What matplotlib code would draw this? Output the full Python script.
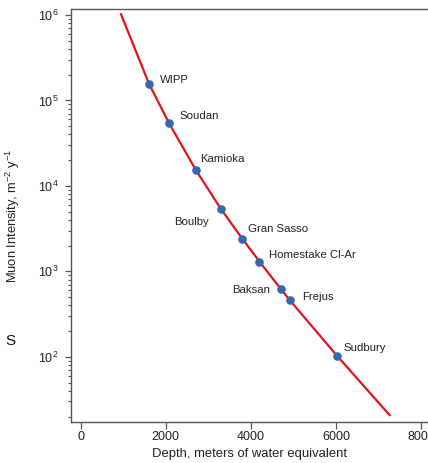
import matplotlib
matplotlib.use("Agg")
import matplotlib.pyplot as plt
from matplotlib.ticker import LogLocator, FixedLocator

plt.rcParams['font.family'] = ['Liberation Sans', 'DejaVu Sans']
plt.rcParams['mathtext.fontset'] = 'custom'
plt.rcParams['mathtext.rm'] = 'Liberation Sans'
plt.rcParams['mathtext.it'] = 'Liberation Sans:italic'
plt.rcParams['mathtext.bf'] = 'Liberation Sans:bold'

# Data
sites = ["WIPP", "Soudan", "Kamioka", "Boulby", "Gran Sasso",
         "Homestake Cl-Ar", "Baksan", "Frejus", "Sudbury"]
site_depth = [1607, 2078, 2705, 3294, 3803, 4203, 4706, 4909, 6024]
site_flux = [1.56e5, 5.4e4, 1.54e4, 5.38e3, 2.4e3, 1.30e3, 620, 464, 103]

curve_depth = [948, 1607, 2078, 2705, 3294, 3803, 4203, 4706, 4909, 6024, 7261]
curve_flux = [1.02e6, 1.56e5, 5.4e4, 1.54e4, 5.38e3, 2.4e3, 1.30e3, 620, 464, 103, 20.8]

x_ticks = [0, 2000, 4000, 6000, 8000]

# label offsets in pixels (style)
offsets = {
    "WIPP": (11, 4, 'left'),
    "Soudan": (10, 7, 'left'),
    "Kamioka": (4, 11, 'left'),
    "Boulby": (-12, -13, 'right'),
    "Gran Sasso": (6, 10, 'left'),
    "Homestake Cl-Ar": (10, 7, 'left'),
    "Baksan": (-11, -1, 'right'),
    "Frejus": (13, 3, 'left'),
    "Sudbury": (7, 8, 'left'),
}

W, H = 428, 463
fig = plt.figure(figsize=(W / 100, H / 100), dpi=100)
left, right, top, bottom = 71, 429, 9, 421.7
ax = fig.add_axes([left / W, 1 - bottom / H, (right - left) / W, (bottom - top) / H])

ax.plot(curve_depth, curve_flux, color='#e3121b', lw=1.6, zorder=2)
ax.plot(site_depth, site_flux, 'o', color='#3566b0', ms=6.2, mec='none', zorder=3)

for name, xd, yd in zip(sites, site_depth, site_flux):
    dx, dy, ha = offsets[name]
    ax.annotate(name, (xd, yd), xytext=(dx, dy), textcoords='offset pixels',
                ha=ha, va='center', fontsize=8.2, color='#222222')

ax.set_yscale('log')
ax.set_xlim(-228, 8188)
ax.set_ylim(17.4, 1.175e6)
ax.xaxis.set_major_locator(FixedLocator(x_ticks))
ax.set_xticklabels([str(v) for v in x_ticks])
ax.yaxis.set_major_locator(LogLocator(base=10, numticks=10))
ax.yaxis.set_minor_locator(LogLocator(base=10, subs=range(2, 10), numticks=20))

for s in ['right']:
    ax.spines[s].set_visible(False)
for s in ['left', 'bottom', 'top']:
    ax.spines[s].set_color('#555555')
    ax.spines[s].set_linewidth(1.0)

ax.tick_params(axis='x', which='major', direction='out', length=5, width=0.9,
               color='#555555', labelsize=9, labelcolor='#222222', pad=1.5)
ax.tick_params(axis='y', which='major', direction='out', length=4, width=0.9,
               color='#555555', labelsize=9, labelcolor='#222222', pad=5)
ax.tick_params(axis='y', which='minor', direction='out', length=2.5, width=0.8,
               color='#555555')

ax.set_xlabel('Depth, meters of water equivalent', fontsize=9.4, color='#222222', labelpad=3.5)
ax.set_ylabel('Muon Intensity, m$^{-2}$ y$^{-1}$', fontsize=9.3, color='#222222')
ax.yaxis.set_label_coords(-0.138, 0.5)

fig.text(10 / W, 1 - 341 / H, 'S', fontsize=11, ha='center', va='center', color='#111111')

fig.savefig('out.png', dpi=100)
